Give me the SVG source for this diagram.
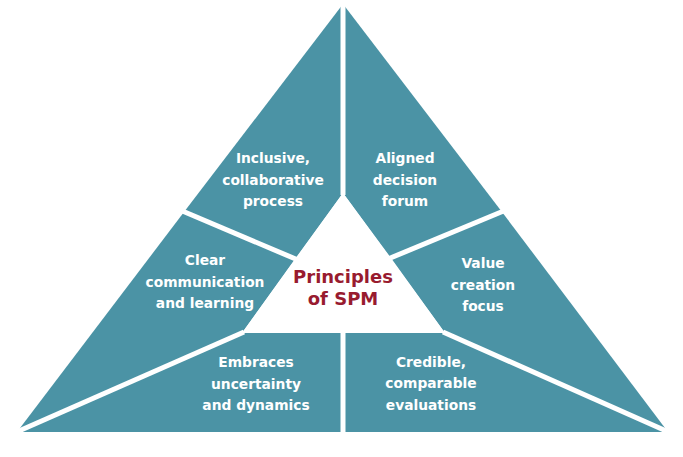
<svg xmlns="http://www.w3.org/2000/svg" width="683" height="457" viewBox="0 0 683 457">
  <style>
    .seg { fill: #4B93A5; }
    .lbl { font-family: "DejaVu Sans", "Liberation Sans", sans-serif; font-weight: bold; font-size: 13.8px; fill: #FFFFFF; text-anchor: middle; }
    .ctr { font-family: "DejaVu Sans", "Liberation Sans", sans-serif; font-weight: bold; font-size: 18px; fill: #981B2F; text-anchor: middle; }
    .div { stroke: #FFFFFF; stroke-width: 5; fill: none; }
  </style>
  <rect x="0" y="0" width="683" height="457" fill="#FFFFFF"/>

  <g id="node-inclusive">
    <polygon class="seg" points="343,4 343,193 295,259 184,212"/>
    <text class="lbl" x="273" y="163">Inclusive,</text>
    <text class="lbl" x="273" y="185">collaborative</text>
    <text class="lbl" x="273" y="206">process</text>
  </g>

  <g id="node-aligned">
    <polygon class="seg" points="343,4 502,212 391,258 343,193"/>
    <text class="lbl" x="405" y="163">Aligned</text>
    <text class="lbl" x="405" y="185">decision</text>
    <text class="lbl" x="405" y="206">forum</text>
  </g>

  <g id="node-clear">
    <polygon class="seg" points="184,212 295,259 242,333 17,432"/>
    <text class="lbl" x="205" y="265">Clear</text>
    <text class="lbl" x="205" y="287">communication</text>
    <text class="lbl" x="205" y="308">and learning</text>
  </g>

  <g id="node-value">
    <polygon class="seg" points="502,212 668,432 445,333 391,258"/>
    <text class="lbl" x="483" y="268">Value</text>
    <text class="lbl" x="483" y="290">creation</text>
    <text class="lbl" x="483" y="311">focus</text>
  </g>

  <g id="node-embraces">
    <polygon class="seg" points="17,432 242,333 343,333 343,432"/>
    <text class="lbl" x="256" y="367">Embraces</text>
    <text class="lbl" x="256" y="389">uncertainty</text>
    <text class="lbl" x="256" y="410">and dynamics</text>
  </g>

  <g id="node-credible">
    <polygon class="seg" points="343,333 445,333 668,432 343,432"/>
    <text class="lbl" x="431" y="367">Credible,</text>
    <text class="lbl" x="431" y="388">comparable</text>
    <text class="lbl" x="431" y="410">evaluations</text>
  </g>

  <g id="node-center">
    <polygon fill="#FFFFFF" points="343,193 445,333 242,333"/>
    <text class="ctr" x="343" y="283">Principles</text>
    <text class="ctr" x="343" y="305">of SPM</text>
  </g>

  <g id="dividers">
    <line class="div" x1="343" y1="0" x2="343" y2="195"/>
    <line class="div" x1="343" y1="331" x2="343" y2="436"/>
    <line class="div" x1="180" y1="210" x2="298" y2="260"/>
    <line class="div" x1="506" y1="210" x2="388" y2="259"/>
    <line class="div" x1="12" y1="434" x2="244" y2="332"/>
    <line class="div" x1="673" y1="434" x2="443" y2="332"/>
  </g>
</svg>
